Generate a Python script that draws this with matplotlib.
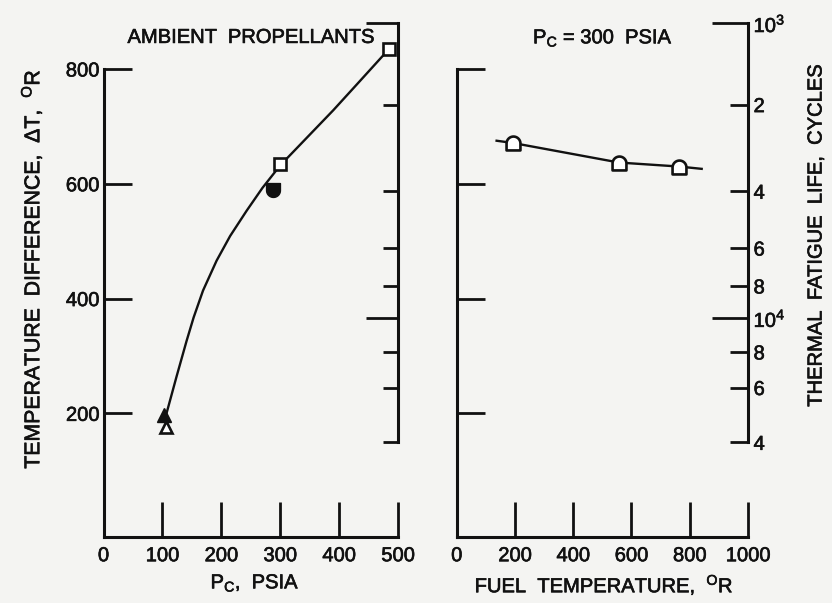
import numpy as np
import matplotlib
matplotlib.use('Agg')
import matplotlib.pyplot as plt
import matplotlib.patheffects as pe
from matplotlib.path import Path
from matplotlib.text import Text

plt.rcParams['font.family'] = ['Liberation Sans', 'DejaVu Sans']
plt.rcParams['mathtext.fontset'] = 'custom'
plt.rcParams['mathtext.rm'] = 'Liberation Sans'
plt.rcParams['mathtext.it'] = 'Liberation Sans'

INK = '#111111'
PAPER = '#f4f4f2'

# left panel: temperature difference vs chamber pressure (ambient propellants)
pc_curve = [107, 124, 141, 153, 169, 192, 215, 243, 270, 300, 330, 360, 390, 430, 484]
dt_curve = [200, 264, 326, 367, 414, 466, 509, 553, 593, 632, 664, 696, 728, 773, 834]
pc_square = [299, 484]
dt_square = [634, 834]
pc_solid_tri, dt_solid_tri = [103], [197]
pc_open_tri, dt_open_tri = [106], [176]
pc_solid_d, dt_solid_d = [288], [589]

# right panel: temperature difference vs fuel temperature (Pc = 300 psia)
tf_line = [137, 194, 557, 764, 841]
dt_line = [675, 671, 637, 630, 626]
tf_pts = [194, 557, 764]
dt_pts = [671, 637, 630]

# thermal fatigue life scale (positions on the delta-T axis)
life_major_pos = [366, 880]
life_major_lbl = [r'$\mathregular{10^4}$', r'$\mathregular{10^3}$']
life_minor_pos = [149.5, 245, 307, 422, 488, 587, 738]
life_minor_lbl = ['4', '6', '8', '8', '6', '4', '2']

YLIM = (-14.6, 881)
FS = 14.5

# D-shaped markers (half circle + half square)
t = np.linspace(0, np.pi, 25)
verts = [(-1, 0), (-1, -1), (1, -1), (1, 0)] + list(zip(np.cos(t), np.sin(t)))
verts.append((-1, 0))
codes = [Path.MOVETO] + [Path.LINETO] * (len(verts) - 2) + [Path.CLOSEPOLY]
dome_up = Path(verts, codes)
dome_down = Path([(x, -y) for x, y in verts], codes)

W, H = 832, 603
fig = plt.figure(figsize=(8.32, 6.03), dpi=100, facecolor=PAPER)


def px_axes(x0, x1, y_top, y_bot):
    return fig.add_axes([x0 / W, 1 - y_bot / H, (x1 - x0) / W, (y_bot - y_top) / H])


def style(ax, xmax, xticks, show_ylabels):
    ax.set_facecolor('none')
    ax.set_xlim(0, xmax)
    ax.set_ylim(*YLIM)
    for s in ['top', 'right']:
        ax.spines[s].set_visible(False)
    for s in ['left', 'bottom']:
        ax.spines[s].set_linewidth(2.2)
        ax.spines[s].set_color(INK)
    ax.spines['left'].set_bounds(YLIM[0], 800)
    ax.set_xticks(xticks)
    ax.set_yticks([200, 400, 600, 800])
    ax.tick_params(axis='x', direction='in', length=25, width=2, pad=7,
                   labelsize=FS, colors=INK)
    ax.tick_params(axis='y', direction='in', length=20, width=2, pad=3,
                   labelsize=FS, colors=INK, labelleft=show_ylabels)

    tw = ax.twinx()
    tw.set_ylim(*YLIM)
    for s in ['top', 'left', 'bottom']:
        tw.spines[s].set_visible(False)
    tw.spines['right'].set_bounds(life_minor_pos[0], life_major_pos[1])
    tw.spines['right'].set_linewidth(2.2)
    tw.spines['right'].set_color(INK)
    return tw


# ---- left panel
ax1 = px_axes(103.5, 398, 22.5, 536.5)
tw1 = style(ax1, 500, [0, 100, 200, 300, 400, 500], True)
tw1.set_yticks(life_major_pos)
tw1.set_yticks(life_minor_pos, minor=True)
tw1.tick_params(which='major', direction='in', length=23, width=2, labelright=False, colors=INK)
tw1.tick_params(which='minor', direction='in', length=11, width=2, labelright=False, colors=INK)

ax1.plot(pc_curve, dt_curve, color=INK, lw=1.7, zorder=2, solid_joinstyle='round')
ax1.plot(pc_square, dt_square, ls='none', marker='s', ms=9, mfc='white', mec=INK, mew=1.9, zorder=3)
ax1.plot(pc_solid_tri, dt_solid_tri, ls='none', marker='^', ms=10, mfc=INK, mec=INK, zorder=3)
ax1.plot(pc_open_tri, dt_open_tri, ls='none', marker='^', ms=9, mfc='white', mec=INK, mew=1.9, zorder=3)
ax1.plot(pc_solid_d, dt_solid_d, ls='none', marker=dome_down, ms=10, mfc=INK, mec=INK, zorder=3)
ax1.text(250, 855, 'AMBIENT  PROPELLANTS', ha='center', va='center', fontsize=FS, color=INK)

# ---- right panel
ax2 = px_axes(456.7, 748, 22.5, 536.5)
tw2 = style(ax2, 1000, [0, 200, 400, 600, 800, 1000], False)
tw2.set_yticks(life_major_pos, labels=life_major_lbl)
tw2.set_yticks(life_minor_pos, labels=life_minor_lbl, minor=True)
tw2.tick_params(which='major', direction='in', length=26, width=2, pad=4,
                labelsize=FS, colors=INK)
tw2.tick_params(which='minor', direction='in', length=13, width=2, pad=4,
                labelsize=FS, colors=INK)

ax2.plot(tf_line, dt_line, color=INK, lw=1.7, zorder=2)
ax2.plot(tf_pts, dt_pts, ls='none', marker=dome_up, ms=10, mfc='white', mec=INK, mew=1.9, zorder=3)
ax2.text(502, 854, r'P$_\mathregular{C}$ = 300  PSIA', ha='center', va='center', fontsize=FS, color=INK)

# axis titles
fig.text(32 / W, 1 - 269 / H, r'TEMPERATURE  DIFFERENCE,  ΔT,  $^\mathregular{O}$R',
         rotation=90, ha='center', va='center', fontsize=15.3, color=INK)
fig.text(816 / W, 1 - 236 / H, 'THERMAL  FATIGUE  LIFE,  CYCLES',
         rotation=90, ha='center', va='center', fontsize=FS, color=INK)
fig.text(255 / W, 1 - 583 / H, r'P$_\mathregular{C}$,  PSIA',
         ha='center', va='center', fontsize=FS, color=INK)
fig.text(604 / W, 1 - 585 / H, r'FUEL  TEMPERATURE,  $^\mathregular{O}$R',
         ha='center', va='center', fontsize=FS, color=INK)

# slightly heavier strokes, like the printed lettering
for txt in fig.findobj(Text):
    txt.set_path_effects([pe.withStroke(linewidth=0.45, foreground=INK)])

fig.savefig('out.png', dpi=100, facecolor=PAPER)
